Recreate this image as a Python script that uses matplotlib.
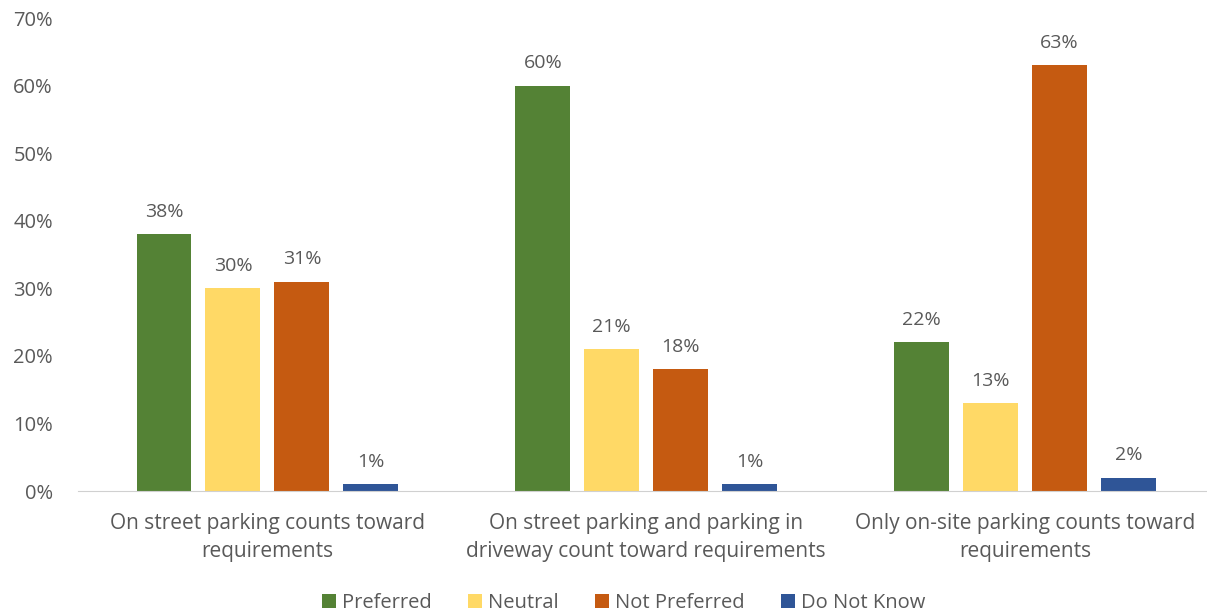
import numpy as np
import matplotlib.pyplot as plt
from matplotlib.ticker import PercentFormatter

# data
categories = ['On street parking counts toward\nrequirements',
              'On street parking and parking in\ndriveway count toward requirements',
              'Only on-site parking counts toward\nrequirements']
series = ['Preferred', 'Neutral', 'Not Preferred', 'Do Not Know']
preferred = [38, 60, 22]
neutral = [30, 21, 13]
not_preferred = [31, 18, 63]
do_not_know = [1, 1, 2]
colors = ['#548235', '#FFD966', '#C55A11', '#2F5597']

plt.rcParams['font.family'] = ['Open Sans', 'DejaVu Sans']
grey = '#595959'

fig = plt.figure(figsize=(12.07, 6.15), dpi=100)
ax = fig.add_axes([0.0646, 0.2016, 0.9354, 0.7691])

x = np.arange(len(categories))
pitch = 0.182
width = 0.145
values = [preferred, neutral, not_preferred, do_not_know]
for i, (name, vals, c) in enumerate(zip(series, values, colors)):
    pos = x + (i - 1.5) * pitch
    bars = ax.bar(pos, vals, width, color=c, label=name)
    for b, v in zip(bars, vals):
        ax.text(b.get_x() + b.get_width() / 2, v + 2.0, f'{v}%',
                ha='center', va='bottom', fontsize=14, color=grey)

ax.set_xlim(-0.5, 2.48)
ax.set_ylim(0, 70)
ax.set_yticks(range(0, 71, 10))
ax.yaxis.set_major_formatter(PercentFormatter(decimals=0))
ax.set_xticks(x)
ax.set_xticklabels(categories, fontsize=15, color=grey, linespacing=1.45)
ax.tick_params(axis='y', labelsize=14.5, labelcolor=grey, length=0, pad=18)
ax.tick_params(axis='x', length=0, pad=16)
for s in ['top', 'right', 'left']:
    ax.spines[s].set_visible(False)
ax.spines['bottom'].set_color('#D0D0D0')

fig.legend(loc='center', bbox_to_anchor=(0.517, 0.02), ncol=4,
           frameon=False, fontsize=14.5, labelcolor=grey, handlelength=0.7,
           handleheight=0.7, handletextpad=0.3, columnspacing=1.8)

fig.savefig('out.png', dpi=100)
